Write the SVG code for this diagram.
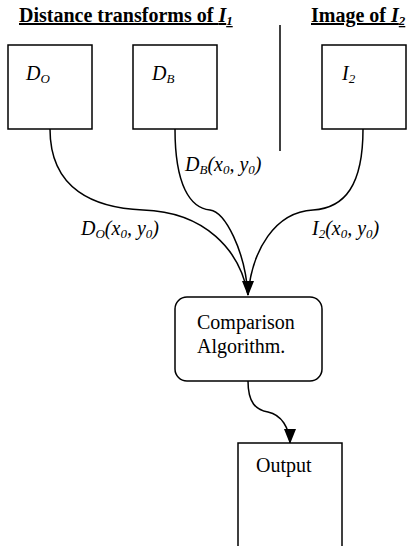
<svg xmlns="http://www.w3.org/2000/svg" width="410" height="546" viewBox="0 0 410 546">
<style>
.box{fill:#fff;stroke:#000;stroke-width:1.5}
.t{font-family:"Liberation Serif","Times New Roman",serif;font-size:20px;fill:#000}
.i{font-style:italic}
.b{font-weight:bold;text-decoration:underline}
.s{font-size:13px}
.c{fill:none;stroke:#000;stroke-width:1.5}
</style>
<rect width="410" height="546" fill="#fff"/>
<g id="titles">
<text class="t b" x="19" y="22">Distance transforms of <tspan class="i">I<tspan class="s" dy="3">1</tspan></tspan></text>
<text class="t b" x="311" y="22">Image of <tspan class="i">I<tspan class="s" dy="3">2</tspan></tspan></text>
<line x1="280" y1="25" x2="280" y2="151" stroke="#000" stroke-width="1.5"/>
</g>
<g id="connectors">
<path class="c" d="M50,129 C50,190 95,208 143,210 C205,212 240,250 248,295"/>
<path class="c" d="M175,129 C175,185 190,208 210,210 C225,212 245,250 248,295"/>
<path class="c" d="M363,129 C363,185 345,208 313,210 C275,212 252,250 248,295"/>
<path class="c" d="M248,381 C248,403 256,410 268,412 C282,415 289,428 290,443"/>
<path d="M242,281 L254,281 L248,296 Z" fill="#000"/>
<path d="M284,429 L296,429 L290,444 Z" fill="#000"/>
<text class="t i" x="185" y="171">D<tspan class="s" dy="3">B</tspan><tspan dy="-3">(x</tspan><tspan class="s" dy="3">0</tspan><tspan dy="-3">, y</tspan><tspan class="s" dy="3">0</tspan><tspan dy="-3">)</tspan></text>
<text class="t i" x="81" y="235">D<tspan class="s" dy="3">O</tspan><tspan dy="-3">(x</tspan><tspan class="s" dy="3">0</tspan><tspan dy="-3">, y</tspan><tspan class="s" dy="3">0</tspan><tspan dy="-3">)</tspan></text>
<text class="t i" x="312" y="235">I<tspan class="s" dy="3">2</tspan><tspan dy="-3">(x</tspan><tspan class="s" dy="3">0</tspan><tspan dy="-3">, y</tspan><tspan class="s" dy="3">0</tspan><tspan dy="-3">)</tspan></text>
</g>
<g id="DO">
<rect class="box" x="8" y="45" width="84" height="84"/>
<text class="t i" x="26" y="80">D<tspan class="s" dy="3">O</tspan></text>
</g>
<g id="DB">
<rect class="box" x="133" y="45" width="84" height="84"/>
<text class="t i" x="152" y="80">D<tspan class="s" dy="3">B</tspan></text>
</g>
<g id="I2">
<rect class="box" x="322" y="45" width="84" height="84"/>
<text class="t i" x="342" y="80">I<tspan class="s" dy="3">2</tspan></text>
</g>
<g id="comparison">
<rect class="box" x="175" y="297" width="147" height="84" rx="12"/>
<text class="t" x="197" y="329">Comparison</text>
<text class="t" x="197" y="353">Algorithm.</text>
</g>
<g id="output">
<rect class="box" x="238" y="443" width="104" height="120"/>
<text class="t" x="256" y="472">Output</text>
</g>
</svg>
